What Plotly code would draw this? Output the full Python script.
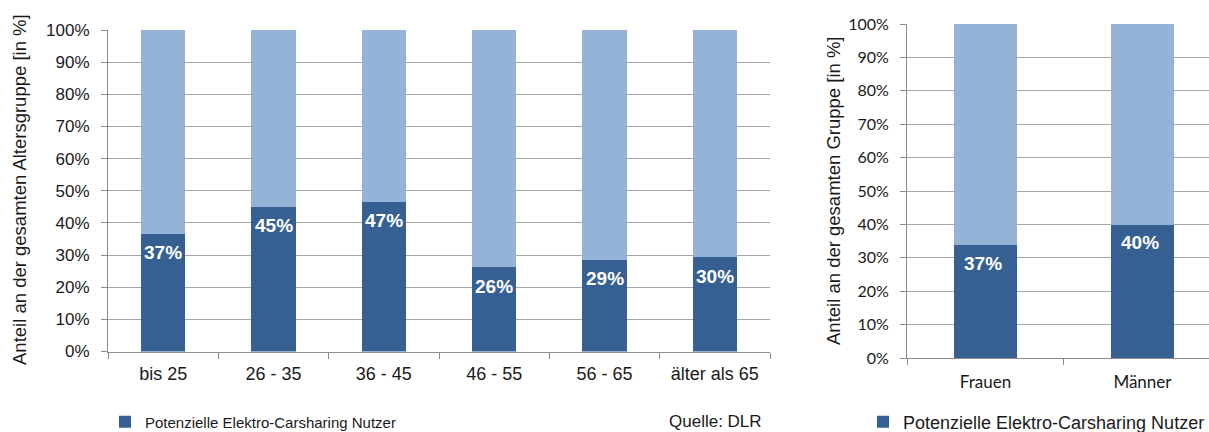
import plotly.graph_objects as go

# ---------------- data ----------------
age_groups = ["bis 25", "26 - 35", "36 - 45", "46 - 55", "56 - 65", "älter als 65"]
age_share = [36.6, 45.0, 46.6, 26.2, 28.5, 29.3]
age_labels = ["37%", "45%", "47%", "26%", "29%", "30%"]   # printed labels

genders = ["Frauen", "Männer"]
gender_share = [33.8, 39.9]
gender_labels = ["37%", "40%"]

y_ticks = [0, 10, 20, 30, 40, 50, 60, 70, 80, 90, 100]
y_ticktext = [f"{v}%" for v in y_ticks]

series_name = "Potenzielle Elektro-Carsharing Nutzer"
source_text = "Quelle: DLR"
left_title = "Anteil an der gesamten Altersgruppe [in %]"
right_title = "Anteil an der gesamten Gruppe [in %]"

# ---------------- style ----------------
DARK = "#366092"
LIGHT = "#95B3D7"
GRID = "#A6A6A6"
AXIS = "#8C8C8C"
TXT = "#1a1a1a"
W, H = 1209, 432
ARIAL = "Liberation Sans, Arial, sans-serif"
CAL = "Lato, Open Sans, sans-serif"

fig = go.Figure()

fig.add_trace(go.Bar(x=age_groups, y=age_share, marker_color=DARK, marker_line_width=0,
                     width=0.4, name=series_name, xaxis="x", yaxis="y",
                     legend="legend", hoverinfo="skip"))
fig.add_trace(go.Bar(x=age_groups, y=[100 - v for v in age_share], marker_color=LIGHT,
                     marker_line_width=0, width=0.4, showlegend=False,
                     xaxis="x", yaxis="y", hoverinfo="skip"))
fig.add_trace(go.Bar(x=genders, y=gender_share, marker_color=DARK, marker_line_width=0,
                     width=0.4, name=series_name, xaxis="x2", yaxis="y2",
                     legend="legend2", hoverinfo="skip"))
fig.add_trace(go.Bar(x=genders, y=[100 - v for v in gender_share], marker_color=LIGHT,
                     marker_line_width=0, width=0.4, showlegend=False,
                     xaxis="x2", yaxis="y2", hoverinfo="skip"))

annotations = []
for c, v, t in zip(age_groups, age_share, age_labels):
    annotations.append(dict(x=c, y=v, xref="x", yref="y", text="<b>" + t + "</b>",
                            showarrow=False, yshift=-19,
                            font=dict(family=ARIAL, size=19, color="white")))
for c, v, t in zip(genders, gender_share, gender_labels):
    annotations.append(dict(x=c, y=v, xref="x2", yref="y2", text="<b>" + t + "</b>",
                            showarrow=False, yshift=-18, xshift=-2,
                            font=dict(family=ARIAL, size=19, color="white")))

annotations.append(dict(x=19 / W, y=1 - 190 / H, xref="paper", yref="paper",
                        xanchor="center", yanchor="middle",
                        text=left_title, textangle=-90, showarrow=False,
                        font=dict(family=ARIAL, size=18.5, color=TXT)))
annotations.append(dict(x=833 / W, y=1 - 190 / H, xref="paper", yref="paper",
                        xanchor="center", yanchor="middle",
                        text=right_title, textangle=-90, showarrow=False,
                        font=dict(family=ARIAL, size=18.5, color=TXT)))
annotations.append(dict(x=715 / W, y=1 - 421 / H, xref="paper", yref="paper",
                        xanchor="center", yanchor="middle",
                        text=source_text, showarrow=False,
                        font=dict(family=ARIAL, size=17, color=TXT)))

common_y = dict(range=[0, 100], tickvals=y_ticks, ticktext=y_ticktext,
                showgrid=True, gridcolor=GRID, gridwidth=1,
                showline=True, linecolor=AXIS, linewidth=1,
                ticks="outside", ticklen=6, tickcolor=AXIS,
                zeroline=False, fixedrange=True, automargin=False)

fig.update_layout(
    width=W, height=H,
    margin=dict(l=0, r=0, t=0, b=0, autoexpand=False),
    paper_bgcolor="white", plot_bgcolor="white",
    barmode="stack", bargap=0.6,
    showlegend=True,
    xaxis=dict(domain=[108 / W, 770 / W], range=[-0.5, 5.5], type="category",
               showline=True, linecolor=AXIS, linewidth=1,
               ticks="outside", ticklen=6, tickcolor=AXIS, tickson="boundaries",
               showgrid=False, ticklabelstandoff=6, automargin=False,
               tickfont=dict(family=ARIAL, size=18, color=TXT), anchor="y"),
    yaxis=dict(domain=[1 - 351.5 / H, 1 - 30 / H], anchor="x",
               tickfont=dict(family=ARIAL, size=17, color=TXT),
               ticklabelstandoff=8, **common_y),
    xaxis2=dict(domain=[907 / W, 1.0], range=[-0.5, 1.424], type="category",
                showline=True, linecolor=AXIS, linewidth=1,
                ticks="outside", ticklen=6, tickcolor=AXIS, tickson="boundaries",
                showgrid=False, ticklabelstandoff=9, automargin=False,
                tickfont=dict(family=CAL, size=17, color=TXT), anchor="y2"),
    yaxis2=dict(domain=[1 - 358 / H, 1 - 24 / H], anchor="x2",
                tickfont=dict(family=CAL, size=16, color=TXT),
                ticklabelstandoff=8, **common_y),
    legend=dict(x=105 / W, y=1 - 422 / H, xanchor="left", yanchor="middle",
                font=dict(family=ARIAL, size=15, color=TXT), bgcolor="rgba(0,0,0,0)",
                itemclick=False, itemdoubleclick=False),
    legend2=dict(x=863 / W, y=1 - 422 / H, xanchor="left", yanchor="middle",
                 font=dict(family=ARIAL, size=18, color=TXT), bgcolor="rgba(0,0,0,0)",
                 itemclick=False, itemdoubleclick=False),
    annotations=annotations,
)

fig.write_html("out.html")
